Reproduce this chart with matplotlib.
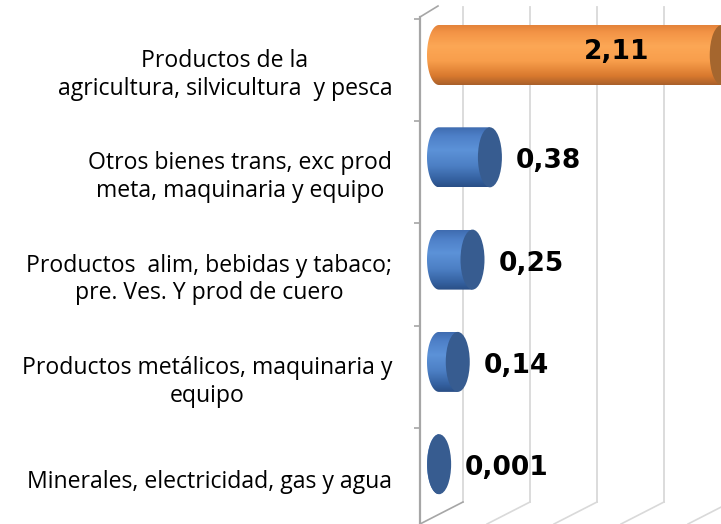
import numpy as np
import matplotlib
matplotlib.use("Agg")
import matplotlib.pyplot as plt
from matplotlib.colors import LinearSegmentedColormap
from matplotlib.patches import Ellipse, Polygon

# datos (de arriba hacia abajo)
categorias = [
    "Productos de la\nagricultura, silvicultura  y pesca",
    "Otros bienes trans, exc prod\nmeta, maquinaria y equipo",
    "Productos  alim, bebidas y tabaco;\npre. Ves. Y prod de cuero",
    "Productos metálicos, maquinaria y\nequipo",
    "Minerales, electricidad, gas y agua",
]
valores = [2.11, 0.38, 0.25, 0.14, 0.001]
etiquetas = ["2,11", "0,38", "0,25", "0,14", "0,001"]
destacado = [True, False, False, False, False]

# escala en pixeles (figura 721x524 a 100 dpi)
PX = 134.0      # px por unidad en x
PY = 102.3      # px por categoria
W, H = 721, 524
X0PIX, Y0PIX = 420, 70   # pixel del 0 en x, centro de la 1a categoria

def dx(p):
    return p / PX

def dy(p):
    return p / PY

fig = plt.figure(figsize=(W / 100, H / 100), dpi=100)
ax = fig.add_axes([X0PIX / W, 0, (W - X0PIX) / W, 1])
ax.set_xlim(0, (W - X0PIX) / PX)
ax.set_ylim((H - Y0PIX) / PY, -Y0PIX / PY)

# pared de fondo y suelo (efecto 3D)
back_x, back_y = dx(43), dy(-22)
y_top = dy(7 - Y0PIX)
y_bot = dy(502 - Y0PIX)
for g in np.arange(0, 2.5, 0.5):
    ax.plot([g + back_x, g + back_x], [y_top, y_bot], color="#D9D9D9", lw=1.3, zorder=1)
    ax.plot([g + back_x, g], [y_bot, y_bot - back_y], color="#D9D9D9" if g > 0 else "#A6A6A6",
            lw=1.2, zorder=1, clip_on=False)
ax.plot([0, dx(18)], [dy(17 - Y0PIX), dy(6 - Y0PIX)], color="#A6A6A6", lw=1.2, zorder=1)

# barras cilindricas
off_x, off_y = dx(19), dy(-15)
hw, ry = dx(12), dy(30)
cm_nar = LinearSegmentedColormap.from_list("nar", [
    (0.0, "#E4833A"), (0.12, "#F39446"), (0.35, "#FCA755"), (0.6, "#F89E4C"),
    (0.85, "#D9792E"), (1.0, "#A9602A")])
cm_azul = LinearSegmentedColormap.from_list("azul", [
    (0.0, "#3F6CB0"), (0.15, "#4E80C8"), (0.38, "#5C92D8"), (0.65, "#4C7FC4"),
    (0.88, "#34609F"), (1.0, "#2A4F86")])
grad = np.linspace(0, 1, 200).reshape(-1, 1)

for i, (v, lab, dest) in enumerate(zip(valores, etiquetas, destacado)):
    yc = i + off_y
    x0 = off_x
    t = np.linspace(np.pi / 2, 3 * np.pi / 2, 60)
    pts = np.column_stack([x0 + hw * np.cos(t), yc - ry * np.sin(t)])
    pts = np.vstack([pts, [[x0 + v, yc + ry], [x0 + v, yc - ry]]])
    body = Polygon(pts, closed=True, facecolor="none", edgecolor="none", zorder=3)
    ax.add_patch(body)
    im = ax.imshow(grad, cmap=cm_nar if dest else cm_azul, aspect="auto",
                   extent=(x0 - hw, x0 + v, yc + ry, yc - ry), origin="upper",
                   zorder=3, interpolation="bilinear")
    im.set_clip_path(body)
    cap = Ellipse((x0 + v, yc), 2 * hw, 2 * ry, facecolor="#A5662E" if dest else "#375C90",
                  edgecolor="none", zorder=4, clip_on=False)
    ax.add_patch(cap)
    if dest:
        ax.text(x0 + v - dx(72), yc + dy(-3), lab, ha="right", va="center",
                fontsize=19, fontweight="bold", family="DejaVu Sans", zorder=5)
    else:
        ax.text(x0 + v + hw + dx(14), yc + dy(4), lab, ha="left", va="center",
                fontsize=19, fontweight="bold", family="DejaVu Sans", zorder=5)

# ejes
ax.set_xticks([])
ax.set_yticks(range(len(categorias)))
ax.set_yticklabels(categorias, fontsize=16.6, family="Open Sans", linespacing=1.2,
                   multialignment="center")
ax.set_yticks(np.arange(-0.5, 4.0, 1.0), minor=True)
ax.tick_params(axis="y", which="major", length=0, pad=20)
ax.tick_params(axis="y", which="minor", length=4.5, width=1.2, color="#A6A6A6")
for s in ["top", "right", "bottom"]:
    ax.spines[s].set_visible(False)
ax.spines["left"].set_color("#A6A6A6")
ax.spines["left"].set_linewidth(1.6)
ax.spines["left"].set_bounds(dy(17 - Y0PIX), (H - Y0PIX) / PY)

fig.savefig("out.png", dpi=100)
